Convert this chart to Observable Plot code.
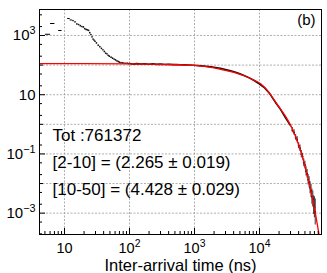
<!DOCTYPE html>
<html><head><meta charset="utf-8">
<script src="https://cdn.jsdelivr.net/npm/d3@7"></script>
<script src="https://cdn.jsdelivr.net/npm/@observablehq/plot@0.6"></script>
<style>html,body{margin:0;padding:0;background:#fff;}</style>
</head><body><div id="chart"></div>
<script>
// ---- data ----
// early wide bins (ns) drawn as horizontal dashes
const earlyLo = [5, 6, 8, 11, 12];
const earlyHi = [6, 7, 9, 12, 13];
const earlyY  = [1100, 2540, 1475, 3750, 3350];
// falling part of the histogram
const riseX = [13.5, 14.5, 15.5, 16.5, 17.5, 18.5, 19.5, 20.5, 21.5, 22.5, 23.5, 24.5, 25.5, 26.5, 27.5, 28.5, 29.5, 31, 33, 35, 37, 39, 41, 43, 45, 47, 49, 52, 55, 58, 61, 64, 67, 70, 74, 78, 82, 87, 92, 97];
const riseY = [3210, 2900, 2450, 2350, 2150, 2010, 1950, 1700, 1600, 1550, 1500, 1250, 1080, 900, 760, 700, 640, 560, 470, 420, 370, 330, 290, 255, 240, 215, 200, 185, 172, 160, 150, 140, 133, 126, 122, 119, 117, 115, 116, 113];
// plateau and decay of the histogram
const flatX = [100, 115, 130, 150, 170, 200, 230, 260, 300, 350, 400, 460, 530, 600, 700, 800, 950, 1100, 1300, 1500, 1800, 2100, 2500, 3000, 3600, 4300, 5000, 6000, 7000, 8500, 10000, 12000, 14500, 17500, 21000, 25000, 30000];
const flatY = [113, 108, 112, 109, 111, 107, 110, 106, 108, 105, 107, 104, 105, 103, 102, 101, 99, 97, 94, 91, 87, 83, 78, 71, 64, 57, 51, 43, 37, 29, 23, 17, 10.5, 5.6, 3.2, 1.7, 0.9];
// noisy tail with error bars
const tailX  = [32000, 34000, 36000, 38000, 40000, 42000, 44000, 46000, 48000, 50000, 52000, 54000, 56000, 58000, 60000, 62000, 64000, 66000, 68000, 70000, 72000];
const tailY  = [0.64, 0.53, 0.36, 0.30, 0.19, 0.155, 0.098, 0.081, 0.05, 0.042, 0.026, 0.021, 0.0135, 0.011, 0.0072, 0.0057, 0.0036, 0.0030, 0.0019, 0.0016, 0.0011];
const tailLo = [0.52, 0.43, 0.29, 0.24, 0.15, 0.12, 0.075, 0.062, 0.037, 0.031, 0.018, 0.015, 0.009, 0.0072, 0.0045, 0.0034, 0.002, 0.0016, 0.0009, 0.0007, 0.0004];
const tailHi = [0.78, 0.65, 0.45, 0.38, 0.24, 0.2, 0.13, 0.105, 0.067, 0.057, 0.037, 0.03, 0.02, 0.017, 0.0115, 0.0095, 0.0065, 0.0056, 0.0039, 0.0036, 0.0030];
// red fit curve
const fitX = [4, 20, 100, 300, 1000, 2000, 3200, 4500, 5700, 7500, 10400, 13000, 16600, 21000, 26700, 32000, 38000, 44000, 50000, 56000, 62000, 68000, 74000, 80000, 86000, 90000];
const fitY = [112, 112, 110, 106, 98, 81, 64, 53, 44.6, 34, 23.3, 14.5, 7.0, 3.3, 1.5, 0.70, 0.28, 0.105, 0.039, 0.0145, 0.0054, 0.002, 0.00075, 0.00028, 0.000105, 0.000055];

// ticks and labels
const xLabelTicks = [10, 100, 1000, 10000];
const xLabels = ["10", "10^2", "10^3", "10^4"];
const yLabelTicks = [1000, 10, 0.1, 0.001];
const yLabels = ["10^3", "10", "10^-1", "10^-3"];
const yDecades = [1000, 100, 10, 1, 0.1, 0.01, 0.001];
const yOtherDecades = [100, 1, 0.01];
const yMinor = [2e-4, 5e-4, 2e-3, 5e-3, 2e-2, 5e-2, 0.2, 0.5, 2, 5, 20, 50, 200, 500, 2000, 5000];
const xDecades = [10, 100, 1000, 10000];
const xMinorMult = [2, 3, 4, 5, 6, 7, 8, 9];
const xMinor = [1, 10, 100, 1000, 10000].flatMap(d => xMinorMult.map(m => m * d)).filter(v => v > 4.2 && v < 89000);

const notes = ["Tot :761372", "[2-10] = (2.265 \u00b1 0.019)", "[10-50] = (4.428 \u00b1 0.029)"];
const panelLabel = "(b)";
const xTitle = "Inter-arrival time (ns)";

const rows = (xs, ys) => xs.map((x, i) => ({x, y: ys[i]}));
const gridStyle = {stroke: "#9a9a9a", strokeOpacity: 1, strokeDasharray: "2,1.5", strokeWidth: 0.8};
const blank = () => "";
const lookup = (ticks, labels) => d => { const k = ticks.findIndex(t => Math.abs(t - d) / t < 1e-6); return k < 0 ? "" : labels[k]; };

const chart = Plot.plot({
  width: 327, height: 273,
  marginLeft: 39, marginRight: 6, marginTop: 9, marginBottom: 39,
  style: {fontFamily: "'Liberation Sans', Arial, sans-serif", fontSize: "15px", background: "white", color: "black"},
  x: {type: "log", domain: [4.125, 89900]},
  y: {type: "log", domain: [1.9e-4, 7550]},
  marks: [
    Plot.gridX(xDecades, gridStyle),
    Plot.gridY(yDecades, gridStyle),
    Plot.link(earlyY.map((y, i) => ({lo: earlyLo[i], hi: earlyHi[i], y})), {x1: "lo", x2: "hi", y1: "y", y2: "y", stroke: "black", strokeWidth: 1}),
    Plot.dot(rows(riseX, riseY), {x: "x", y: "y", r: 0.85, fill: "#111", stroke: null}),
    Plot.line(rows(flatX, flatY), {x: "x", y: "y", stroke: "#111", strokeWidth: 1.6, clip: true}),
    Plot.ruleX(tailX.map((x, i) => ({x, lo: tailLo[i], hi: tailHi[i]})), {x: "x", y1: "lo", y2: "hi", stroke: "#444", strokeWidth: 1.1, clip: true}),
    Plot.dot(rows(tailX, tailY), {x: "x", y: "y", r: 0.9, fill: "black", stroke: null}),
    Plot.line(rows(fitX, fitY), {x: "x", y: "y", curve: "monotone-x", stroke: "#ff0000", strokeWidth: 1.3, clip: true}),
    Plot.frame({stroke: "black", strokeWidth: 1}),
    // inward ticks
    Plot.axisX(xMinor, {tickSize: -3, tickFormat: blank}),
    Plot.axisX(xDecades, {tickSize: -6, tickFormat: blank}),
    Plot.axisY(yMinor, {tickSize: -3, tickFormat: blank}),
    Plot.axisY(yOtherDecades, {tickSize: -4, tickFormat: blank}),
    Plot.axisY(yLabelTicks, {tickSize: -6, tickFormat: blank}),
    // labels
    Plot.axisX(xLabelTicks, {tickSize: 0, tickPadding: 8, fontSize: 14.5, tickFormat: lookup(xLabelTicks, xLabels)}),
    Plot.axisY(yLabelTicks, {tickSize: 0, tickPadding: 4, fontSize: 15, tickFormat: lookup(yLabelTicks, yLabels)}),
    Plot.text([notes.join("\n")], {frameAnchor: "top-left", textAnchor: "start", lineAnchor: "bottom", lineHeight: 1.588, dx: 13, dy: 185, fontSize: 17, fill: "black"}),
    Plot.text([panelLabel], {frameAnchor: "top-right", textAnchor: "end", lineAnchor: "bottom", dx: -6, dy: 15, fontSize: 15, fill: "black"}),
    Plot.text([xTitle], {frameAnchor: "bottom", textAnchor: "middle", lineAnchor: "bottom", dy: 36.5, fontSize: 16.5, fill: "black"})
  ]
});

// superscripts for "10^n" labels
d3.select(chart).selectAll("text").each(function() {
  const t = this.textContent;
  if (this.children.length === 0 && t.includes("^")) {
    const [base, exp] = t.split("^");
    this.textContent = base;
    d3.select(this).append("tspan").attr("dy", "-0.55em").attr("font-size", "0.72em").text(exp.replace("-", "\u2212"));
  }
});

document.getElementById("chart").appendChild(chart);
</script>
</body></html>
